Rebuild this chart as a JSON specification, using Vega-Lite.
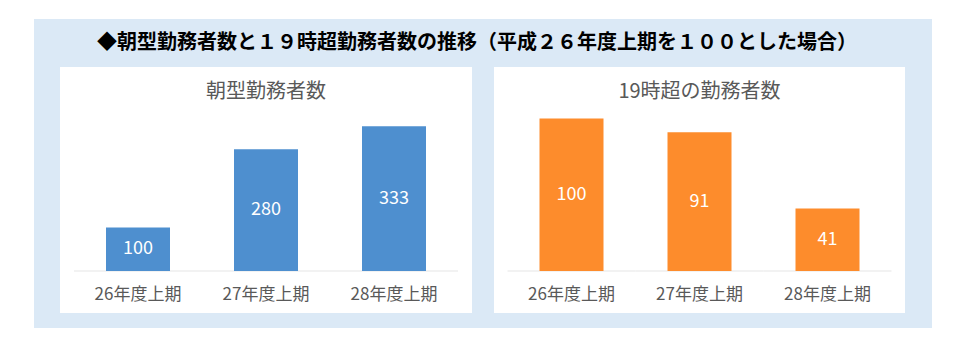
{
  "$schema": "https://vega.github.io/schema/vega-lite/v6.json",
  "background": "white",
  "padding": {"left": 34, "top": 19, "right": 35, "bottom": 27},
  "config": {"font": "Noto Sans CJK JP"},
  "spacing": 0,
  "vconcat": [
    {
      "width": 898,
      "height": 48,
      "view": {"fill": "#DBE9F6", "stroke": null},
      "data": {"values": [{"t": "◆朝型勤務者数と１９時超勤務者数の推移（平成２６年度上期を１００とした場合）"}]},
      "mark": {"type": "text", "fontSize": 20, "fontWeight": "bold", "color": "#000000", "font": "Noto Sans CJK JP", "baseline": "middle", "dx": -6},
      "encoding": {"text": {"field": "t"}}
    },
    {
      "spacing": 0,
      "hconcat": [
        {"width": 26, "height": 246, "view": {"fill": "#DBE9F6", "stroke": null}, "data": {"values": []}, "mark": "rect", "encoding": {}},
        {
          "width": 412,
          "height": 246,
          "view": {"fill": "white", "stroke": null},
          "title": {"text": "朝型勤務者数", "fontSize": 20, "fontWeight": "normal", "color": "#595959", "offset": -35, "anchor": "middle", "font": "Noto Sans CJK JP"},
          "data": {"values": [
            {"period": "26年度上期", "v": 100},
            {"period": "27年度上期", "v": 280},
            {"period": "28年度上期", "v": 333}
          ]},
          "encoding": {
            "x": {
              "field": "period", "type": "nominal", "sort": null,
              "scale": {"paddingInner": 0.5, "paddingOuter": 0.359375},
              "axis": {"title": null, "domain": false, "ticks": false, "labelAngle": 0, "offset": -42, "labelPadding": 15, "labelFontSize": 17, "labelColor": "#595959", "labelFont": "Noto Sans CJK JP"}
            }
          },
          "layer": [
            {
              "mark": {"type": "tick", "color": "#DCDCDC", "size": 128, "thickness": 1},
              "encoding": {"y": {"datum": 0, "type": "quantitative", "scale": {"domain": [-96.6, 469.4], "nice": false, "zero": false}, "axis": null}}
            },
            {
              "mark": {"type": "bar", "color": "#4E8FCF"},
              "encoding": {"y": {"field": "v", "type": "quantitative", "scale": {"domain": [-96.6, 469.4], "nice": false, "zero": false}, "axis": null}}
            },
            {
              "mark": {"type": "text", "color": "white", "fontSize": 18, "baseline": "middle", "font": "Noto Sans CJK JP"},
              "encoding": {
                "y": {"field": "v", "type": "quantitative", "scale": {"domain": [-193.2, 938.8], "nice": false, "zero": false}, "axis": null},
                "text": {"field": "v", "type": "quantitative"}
              }
            }
          ],
          "resolve": {"scale": {"y": "independent"}}
        },
        {"width": 22, "height": 246, "view": {"fill": "#DBE9F6", "stroke": null}, "data": {"values": []}, "mark": "rect", "encoding": {}},
        {
          "width": 411,
          "height": 246,
          "view": {"fill": "white", "stroke": null},
          "title": {"text": "19時超の勤務者数", "fontSize": 20, "fontWeight": "normal", "color": "#595959", "offset": -35, "anchor": "middle", "font": "Noto Sans CJK JP"},
          "data": {"values": [
            {"period": "26年度上期", "v": 100},
            {"period": "27年度上期", "v": 91},
            {"period": "28年度上期", "v": 41}
          ]},
          "encoding": {
            "x": {
              "field": "period", "type": "nominal", "sort": null,
              "scale": {"paddingInner": 0.5, "paddingOuter": 0.35546875},
              "axis": {"title": null, "domain": false, "ticks": false, "labelAngle": 0, "offset": -42, "labelPadding": 15, "labelFontSize": 17, "labelColor": "#595959", "labelFont": "Noto Sans CJK JP"}
            }
          },
          "layer": [
            {
              "mark": {"type": "tick", "color": "#DCDCDC", "size": 128, "thickness": 1},
              "encoding": {"y": {"datum": 0, "type": "quantitative", "scale": {"domain": [-27.54, 133.77], "nice": false, "zero": false}, "axis": null}}
            },
            {
              "mark": {"type": "bar", "color": "#FD8C2C"},
              "encoding": {"y": {"field": "v", "type": "quantitative", "scale": {"domain": [-27.54, 133.77], "nice": false, "zero": false}, "axis": null}}
            },
            {
              "mark": {"type": "text", "color": "white", "fontSize": 18, "baseline": "middle", "font": "Noto Sans CJK JP"},
              "encoding": {
                "y": {"field": "v", "type": "quantitative", "scale": {"domain": [-55.08, 267.54], "nice": false, "zero": false}, "axis": null},
                "text": {"field": "v", "type": "quantitative"}
              }
            }
          ],
          "resolve": {"scale": {"y": "independent"}}
        },
        {"width": 27, "height": 246, "view": {"fill": "#DBE9F6", "stroke": null}, "data": {"values": []}, "mark": "rect", "encoding": {}}
      ]
    },
    {"width": 898, "height": 15, "view": {"fill": "#DBE9F6", "stroke": null}, "data": {"values": []}, "mark": "rect", "encoding": {}}
  ]
}
